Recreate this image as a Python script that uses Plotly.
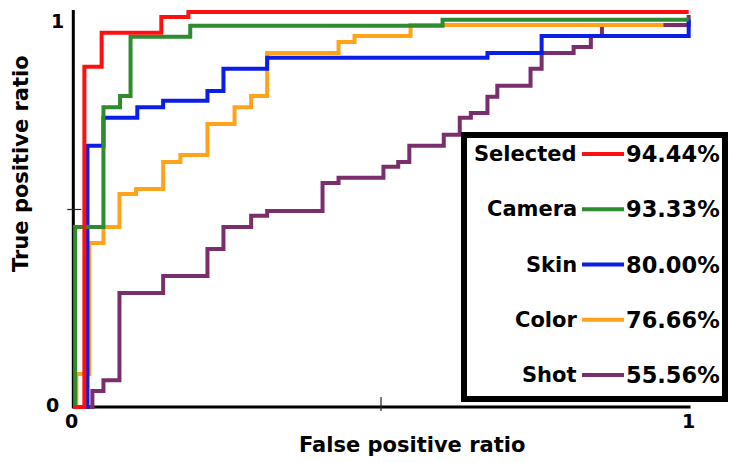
import plotly.graph_objects as go

# ROC step curves: corner points (false positive ratio, true positive ratio)
selected_fpr = [0, 0.018, 0.046, 0.143, 0.187, 1]
selected_tpr = [0, 0.861, 0.947, 0.987, 1.0, 1.0]

camera_fpr = [0, 0.003, 0.049, 0.076, 0.093, 0.19, 0.6, 1]
camera_tpr = [0, 0.456, 0.759, 0.787, 0.937, 0.965, 0.98, 0.98]

skin_fpr = [0, 0.023, 0.049, 0.104, 0.146, 0.218, 0.244, 0.315, 0.673, 0.761, 1]
skin_tpr = [0, 0.661, 0.732, 0.759, 0.775, 0.8, 0.856, 0.884, 0.896, 0.939, 0.98]

color_fpr = [0, 0.005, 0.026, 0.049, 0.075, 0.102, 0.146, 0.174, 0.218, 0.262,
             0.289, 0.315, 0.431, 0.457, 0.548, 0.959]
color_tpr = [0, 0.084, 0.415, 0.456, 0.539, 0.552, 0.62, 0.638, 0.716, 0.759,
             0.787, 0.896, 0.924, 0.939, 0.967, 0.967]

shot_fpr = [0, 0.031, 0.049, 0.075, 0.146, 0.218, 0.244, 0.289, 0.315, 0.405,
            0.431, 0.504, 0.528, 0.546, 0.602, 0.628, 0.646, 0.673, 0.689, 0.743,
            0.761, 0.813, 0.841, 0.859, 1]
shot_tpr = [0, 0.041, 0.068, 0.289, 0.332, 0.4, 0.456, 0.484, 0.496, 0.567,
            0.58, 0.608, 0.62, 0.661, 0.689, 0.732, 0.744, 0.785, 0.813, 0.856,
            0.896, 0.911, 0.939, 0.967, 0.992]

legend_names = ["Selected", "Camera", "Skin", "Color", "Shot"]
accuracy_pct = [94.44, 93.33, 80.00, 76.66, 55.56]
colors = {
    "Selected": "#ff1010",
    "Camera": "#2e8b2e",
    "Skin": "#0a1ee6",
    "Color": "#ffa21c",
    "Shot": "#7a2e6c",
}
curves = {
    "Selected": (selected_fpr, selected_tpr),
    "Camera": (camera_fpr, camera_tpr),
    "Skin": (skin_fpr, skin_tpr),
    "Color": (color_fpr, color_tpr),
    "Shot": (shot_fpr, shot_tpr),
}

W, H = 733, 462
L, R, T, B = 61, 32, 2, 47
PW, PH = W - L - R, H - T - B
XR = [-0.02, 1.02]
YR = [-0.02, 1.025]


def paper_x(px):
    return (px - L) / PW


def paper_y(py):
    return (H - B - py) / PH


FONT = "DejaVu Sans"

fig = go.Figure()

# draw order: weakest curve underneath
for name in ["Shot", "Color", "Skin", "Camera", "Selected"]:
    fx, ty = curves[name]
    fig.add_trace(go.Scatter(
        x=fx, y=ty, mode="lines", name=name,
        line=dict(color=colors[name], width=4, shape="hv"),
        showlegend=False, hoverinfo="skip",
    ))

shapes = []
# axis lines
shapes.append(dict(type="line", xref="x", yref="y", x0=0, x1=0, y0=-0.002, y1=1.005,
                   line=dict(color="black", width=3), layer="below"))
shapes.append(dict(type="line", xref="x", yref="y", x0=-0.002, x1=1.003, y0=0, y1=0,
                   line=dict(color="black", width=3), layer="below"))
# mid ticks crossing the axes
shapes.append(dict(type="line", xref="x", yref="y", ysizemode="pixel",
                   yanchor=0, x0=0.5, x1=0.5, y0=-4, y1=10,
                   line=dict(color="#222", width=1.2), layer="below"))
shapes.append(dict(type="line", xref="x", yref="y", xsizemode="pixel", xanchor=0,
                   x0=-6, x1=8, y0=0.5, y1=0.5,
                   line=dict(color="#222", width=1.2), layer="below"))

# legend box
shapes.append(dict(type="rect", xref="paper", yref="paper",
                   x0=paper_x(464), x1=paper_x(725), y0=paper_y(399), y1=paper_y(135),
                   line=dict(color="black", width=6), fillcolor="white", layer="above"))

annotations = []
row_y = [154 + i * 55.25 for i in range(len(legend_names))]
for name, pct, py in zip(legend_names, accuracy_pct, row_y):
    shapes.append(dict(type="line", xref="paper", yref="paper",
                       x0=paper_x(582), x1=paper_x(624), y0=paper_y(py), y1=paper_y(py),
                       line=dict(color=colors[name], width=4), layer="above"))
    annotations.append(dict(xref="paper", yref="paper", x=paper_x(579), y=paper_y(py),
                            text=name, showarrow=False, xanchor="right", yanchor="middle",
                            font=dict(family=FONT, size=21, color="black", weight="bold")))
    annotations.append(dict(xref="paper", yref="paper", x=paper_x(624), y=paper_y(py),
                            text=f"{pct:.2f}%", showarrow=False, xanchor="left", yanchor="middle",
                            font=dict(family=FONT, size=22.5, color="black", weight="bold")))

tick_font = dict(family=FONT, size=19, color="black", weight="bold")
# tick labels
annotations += [
    dict(xref="x", yref="y", x=0, y=0, xshift=-2, yshift=-14, text="0",
         showarrow=False, font=tick_font),
    dict(xref="x", yref="y", x=1, y=0, xshift=0, yshift=-14, text="1",
         showarrow=False, font=tick_font),
    dict(xref="x", yref="y", x=0, y=0, xshift=-21, yshift=2, text="0",
         showarrow=False, font=tick_font),
    dict(xref="x", yref="y", x=0, y=1, xshift=-16, yshift=-9, text="1",
         showarrow=False, font=tick_font),
]

title_font = dict(family=FONT, size=21, color="black", weight="bold")
annotations.append(dict(xref="paper", yref="paper", x=paper_x(412), y=paper_y(445),
                        text="False positive ratio", showarrow=False,
                        xanchor="center", yanchor="middle", font=title_font))
annotations.append(dict(xref="paper", yref="paper", x=paper_x(21), y=paper_y(164),
                        text="True positive ratio", showarrow=False, textangle=-90,
                        xanchor="center", yanchor="middle", font=title_font))

fig.update_layout(
    width=W, height=H,
    margin=dict(l=L, r=R, t=T, b=B),
    paper_bgcolor="white", plot_bgcolor="white",
    xaxis=dict(range=XR, showgrid=False, zeroline=False, showline=False,
               showticklabels=False, ticks=""),
    yaxis=dict(range=YR, showgrid=False, zeroline=False, showline=False,
               showticklabels=False, ticks=""),
    shapes=shapes,
    annotations=annotations,
)

fig.write_html("out.html")
